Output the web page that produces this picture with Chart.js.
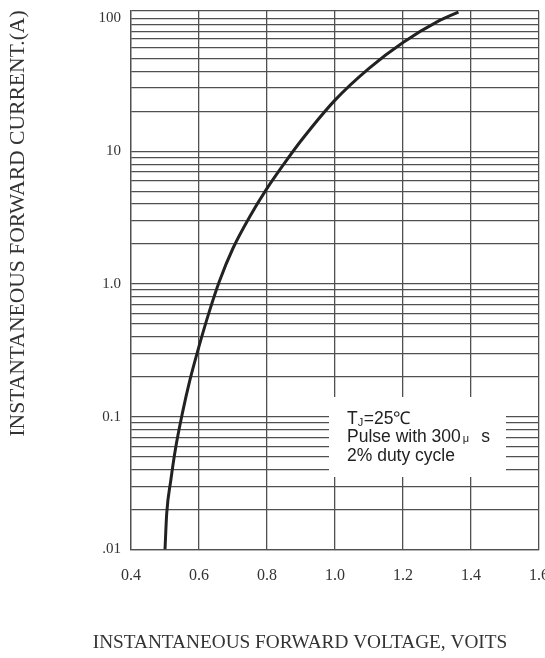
<!DOCTYPE html>
<html>
<head>
<meta charset="utf-8">
<script src="https://cdn.jsdelivr.net/npm/chart.js@4"></script>
<style>
  html, body { margin: 0; padding: 0; background: #fff; }
  #wrap { width: 545px; height: 658px; position: relative; }
</style>
</head>
<body>
<div id="wrap"><canvas id="c" width="545" height="658"></canvas></div>
<script>
// ---- data ----
const voltage = [0.500, 0.505, 0.517, 0.532, 0.551, 0.573, 0.600, 0.630, 0.660, 0.700, 0.750, 0.800, 0.850, 0.900, 1.000, 1.100, 1.200, 1.300, 1.363];
const current = [0.010, 0.0186, 0.0331, 0.0596, 0.106, 0.188, 0.339, 0.617, 1.05, 1.86, 3.24, 5.25, 8.04, 12.0, 24.3, 42.2, 66.1, 94.4, 112];

const xTickValues = [0.4, 0.6, 0.8, 1.0, 1.2, 1.4, 1.6];
const xTickLabels = ['0.4', '0.6', '0.8', '1.0', '1.2', '1.4', '1.6'];
const yTickValues = [0.01, 0.1, 1, 10, 100];
const yTickLabels = ['.01', '0.1', '1.0', '10', '100'];
const yMin = 0.01, yMax = 114;
const gridMultipliers = [1, 2, 3, 4, 5, 6, 7, 8, 9];

const xTitle = 'INSTANTANEOUS FORWARD VOLTAGE, VOITS';
const yTitle = 'INSTANTANEOUS FORWARD CURRENT.(A)';
const noteLines = [
  [['T', 'n'], ['J', 'sub'], ['=25', 'n'], ['\u2103', 'n']],
  [['Pulse with 300', 'n'], ['\u03bc', 'small'], ['s', 'gap']],
  [['2% duty cycle', 'n']]
];

const points = voltage.map((v, i) => ({ x: v, y: current[i] }));

const gridColor = '#505050';
const textColor = '#333333';
const serif = '"Liberation Serif", "Times New Roman", serif';
const sans = '"Liberation Sans", Arial, sans-serif';

const overlay = {
  id: 'overlay',
  afterDatasetsDraw(chart) {
    const ctx = chart.ctx;
    ctx.save();
    // note box
    ctx.fillStyle = '#ffffff';
    ctx.fillRect(329, 397, 177, 80);
    ctx.fillStyle = '#222222';
    ctx.textBaseline = 'alphabetic';
    ctx.textAlign = 'left';
    const baselines = [423.5, 442, 460.5];
    noteLines.forEach((line, li) => {
      let x = 347;
      line.forEach(([txt, kind]) => {
        let size = 17.5, dy = 0;
        if (kind === 'sub') { size = 11; dy = 2; }
        if (kind === 'small') { size = 11; x += 2; }
        if (kind === 'gap') { x += 12; }
        ctx.font = size + 'px ' + sans;
        ctx.fillText(txt, x, baselines[li] + dy);
        x += ctx.measureText(txt).width + (kind === 'sub' ? 0.5 : 0);
      });
    });
    // axis titles
    ctx.fillStyle = textColor;
    ctx.font = '19.3px ' + serif;
    ctx.textAlign = 'center';
    ctx.textBaseline = 'middle';
    ctx.fillText(xTitle, 300, 643);
    ctx.translate(18, 223.5);
    ctx.rotate(-Math.PI / 2);
    ctx.font = '21.6px ' + serif;
    ctx.fillText(yTitle, 0, 0);
    ctx.restore();
  }
};

new Chart(document.getElementById('c'), {
  type: 'line',
  data: {
    datasets: [{
      data: points,
      borderColor: '#222222',
      borderWidth: 3,
      pointRadius: 0,
      fill: false,
      cubicInterpolationMode: 'monotone'
    }]
  },
  options: {
    responsive: false,
    animation: false,
    devicePixelRatio: 1,
    layout: { padding: { left: 0, right: 6, top: 11, bottom: 0 } },
    plugins: { legend: { display: false }, tooltip: { enabled: false }, title: { display: false } },
    scales: {
      x: {
        type: 'linear',
        min: 0.4, max: 1.6,
        afterBuildTicks: s => { s.ticks = xTickValues.map(v => ({ value: v })); },
        afterFit: s => { s.height = 108.5; s.paddingLeft = 0; s.paddingRight = 0; },
        grid: { color: gridColor, lineWidth: 1.3, drawTicks: false },
        border: { color: gridColor, width: 1.3 },
        ticks: {
          autoSkip: false, maxRotation: 0, padding: 16.5,
          color: textColor, font: { family: serif, size: 16 },
          callback: v => { const i = xTickValues.findIndex(t => Math.abs(t - v) < 1e-9); return i >= 0 ? xTickLabels[i] : ''; }
        }
      },
      y: {
        type: 'logarithmic',
        min: yMin, max: yMax,
        afterBuildTicks: s => {
          const t = [];
          for (let e = -2; e <= 1; e++) gridMultipliers.forEach(m => t.push({ value: +(m * Math.pow(10, e)).toPrecision(6) }));
          t.push({ value: 100 });
          t.push({ value: yMax });
          s.ticks = t;
        },
        afterFit: s => { s.width = 131; s.paddingTop = 0; s.paddingBottom = 0; },
        grid: { color: gridColor, lineWidth: 1.3, drawTicks: false },
        border: { color: gridColor, width: 1.3 },
        ticks: {
          autoSkip: false, padding: 10,
          color: textColor, font: { family: serif, size: 15 },
          callback: v => { const i = yTickValues.findIndex(t => Math.abs(t - v) / t < 1e-6); return i >= 0 ? yTickLabels[i] : ''; }
        }
      }
    }
  },
  plugins: [overlay]
});
</script>
</body>
</html>
